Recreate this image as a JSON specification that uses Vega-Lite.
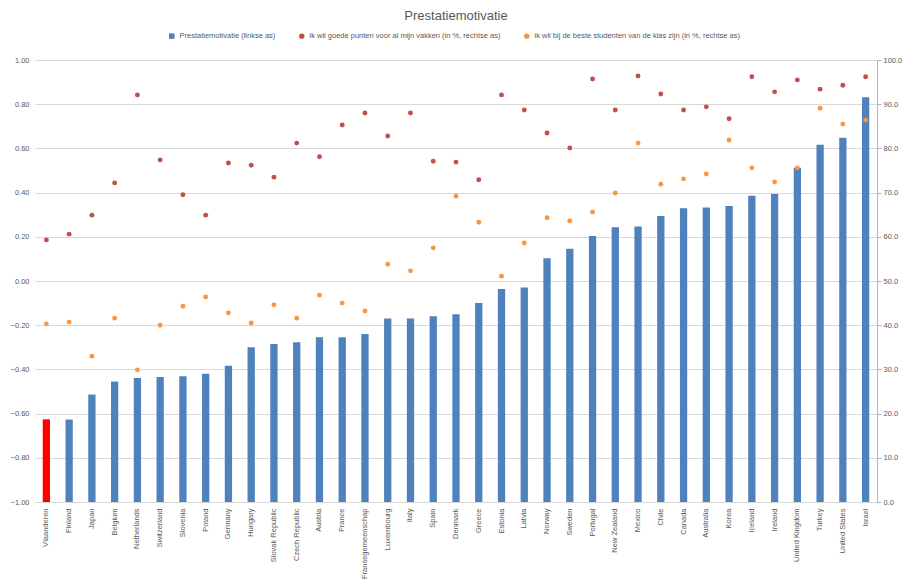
{
  "$schema": "https://vega.github.io/schema/vega-lite/v6.json",
  "width": 842,
  "height": 442,
  "autosize": {"type": "none"},
  "padding": {"left": 35, "top": 60, "right": 31, "bottom": 78},
  "background": "white",
  "config": {
    "font": "Liberation Sans",
    "view": {"stroke": null}
  },
  "title": {
    "text": "Prestatiemotivatie",
    "fontSize": 13,
    "fontWeight": "normal",
    "color": "#595959",
    "frame": "group",
    "offset": 9,
    "anchor": "middle"
  },
  "data": {
    "values": [
      {"country": "Vlaanderen", "motivatie": -0.626, "punten": 59.3, "beste": 40.3},
      {"country": "Finland", "motivatie": -0.627, "punten": 60.6, "beste": 40.7},
      {"country": "Japan", "motivatie": -0.514, "punten": 64.9, "beste": 33.0},
      {"country": "Belgium", "motivatie": -0.455, "punten": 72.2, "beste": 41.6},
      {"country": "Netherlands", "motivatie": -0.439, "punten": 92.1, "beste": 29.9},
      {"country": "Switzerland", "motivatie": -0.434, "punten": 77.4, "beste": 40.0},
      {"country": "Slovenia", "motivatie": -0.431, "punten": 69.5, "beste": 44.3},
      {"country": "Poland", "motivatie": -0.42, "punten": 64.9, "beste": 46.4},
      {"country": "Germany", "motivatie": -0.383, "punten": 76.7, "beste": 42.8},
      {"country": "Hungary", "motivatie": -0.30, "punten": 76.2, "beste": 40.5},
      {"country": "Slovak Republic", "motivatie": -0.285, "punten": 73.5, "beste": 44.6},
      {"country": "Czech Republic", "motivatie": -0.277, "punten": 81.2, "beste": 41.6},
      {"country": "Austria", "motivatie": -0.255, "punten": 78.1, "beste": 46.8},
      {"country": "France", "motivatie": -0.254, "punten": 85.3, "beste": 45.0},
      {"country": "Fransegemeenschap", "motivatie": -0.24, "punten": 88.0, "beste": 43.2},
      {"country": "Luxembourg", "motivatie": -0.17, "punten": 82.8, "beste": 53.8},
      {"country": "Italy", "motivatie": -0.17, "punten": 88.0, "beste": 52.3},
      {"country": "Spain", "motivatie": -0.16, "punten": 77.1, "beste": 57.5},
      {"country": "Denmark", "motivatie": -0.151, "punten": 76.9, "beste": 69.2},
      {"country": "Greece", "motivatie": -0.10, "punten": 72.9, "beste": 63.3},
      {"country": "Estonia", "motivatie": -0.036, "punten": 92.1, "beste": 51.1},
      {"country": "Latvia", "motivatie": -0.029, "punten": 88.7, "beste": 58.6},
      {"country": "Norway", "motivatie": 0.103, "punten": 83.5, "beste": 64.3},
      {"country": "Sweden", "motivatie": 0.146, "punten": 80.1, "beste": 63.6},
      {"country": "Portugal", "motivatie": 0.204, "punten": 95.7, "beste": 65.6},
      {"country": "New Zealand", "motivatie": 0.243, "punten": 88.7, "beste": 69.9},
      {"country": "Mexico", "motivatie": 0.247, "punten": 96.4, "beste": 81.2},
      {"country": "Chile", "motivatie": 0.294, "punten": 92.3, "beste": 71.9},
      {"country": "Canada", "motivatie": 0.329, "punten": 88.7, "beste": 73.1},
      {"country": "Australia", "motivatie": 0.333, "punten": 89.4, "beste": 74.2},
      {"country": "Korea", "motivatie": 0.339, "punten": 86.7, "beste": 81.9},
      {"country": "Iceland", "motivatie": 0.386, "punten": 96.2, "beste": 75.6},
      {"country": "Ireland", "motivatie": 0.394, "punten": 92.8, "beste": 72.4},
      {"country": "United Kingdom", "motivatie": 0.513, "punten": 95.5, "beste": 75.6},
      {"country": "Turkey", "motivatie": 0.617, "punten": 93.4, "beste": 89.1},
      {"country": "United States", "motivatie": 0.648, "punten": 94.3, "beste": 85.5},
      {"country": "Israel", "motivatie": 0.831, "punten": 96.2, "beste": 86.4}
    ]
  },
  "transform": [{"fold": ["motivatie", "punten", "beste"], "as": ["series", "value"]}],
  "encoding": {
    "x": {
      "field": "country",
      "type": "nominal",
      "sort": ["Vlaanderen", "Finland", "Japan", "Belgium", "Netherlands", "Switzerland", "Slovenia", "Poland", "Germany", "Hungary", "Slovak Republic", "Czech Republic", "Austria", "France", "Fransegemeenschap", "Luxembourg", "Italy", "Spain", "Denmark", "Greece", "Estonia", "Latvia", "Norway", "Sweden", "Portugal", "New Zealand", "Mexico", "Chile", "Canada", "Australia", "Korea", "Iceland", "Ireland", "United Kingdom", "Turkey", "United States", "Israel"],
      "scale": {"paddingInner": 0.68, "paddingOuter": 0.34},
      "axis": {
        "title": null,
        "labelAngle": -90,
        "labelFontSize": 7.5,
        "labelColor": "#595959",
        "labelPadding": 6,
        "ticks": false,
        "domainColor": "#d9d9d9",
        "grid": false
      }
    }
  },
  "layer": [
    {
      "transform": [{"filter": "datum.series === 'motivatie'"}],
      "mark": {"type": "bar"},
      "encoding": {
        "y": {
          "field": "value",
          "type": "quantitative",
          "scale": {"domain": [-1, 1], "nice": false},
          "axis": {
            "orient": "left",
            "title": null,
            "values": [-1, -0.8, -0.6, -0.4, -0.2, 0, 0.2, 0.4, 0.6, 0.8, 1],
            "format": ".2f",
            "domain": false,
            "ticks": false,
            "labelPadding": 6,
            "labelFontSize": 7.5,
            "labelColor": "#595959",
            "grid": true,
            "gridColor": "#d9d9d9"
          }
        },
        "y2": {"datum": -1},
        "color": {
          "condition": {"test": "datum.country === 'Vlaanderen'", "value": "#ff0000"},
          "field": "series",
          "type": "nominal",
          "scale": {"domain": ["motivatie", "punten", "beste"], "range": ["#4f81bd", "#c0504d", "#f79646"]},
          "legend": {
            "orient": "none",
            "legendX": 133,
            "legendY": -28,
            "direction": "horizontal",
            "title": null,
            "labelFontSize": 7.5,
            "labelColor": "#595959",
            "labelLimit": 400,
            "symbolSize": 30,
            "columnPadding": 22,
            "labelExpr": "datum.label === 'motivatie' ? 'Prestatiemotivatie (linkse as)' : datum.label === 'punten' ? 'ik wil goede punten voor al mijn vakken (in %, rechtse as)' : 'ik wil bij de beste studenten van de klas zijn (in %, rechtse as)'"
          }
        }
      }
    },
    {
      "transform": [{"filter": "datum.series !== 'motivatie'"}],
      "mark": {"type": "point", "filled": true, "size": 24, "opacity": 1},
      "encoding": {
        "y": {
          "field": "value",
          "type": "quantitative",
          "scale": {"domain": [0, 100], "nice": false},
          "axis": {
            "orient": "right",
            "title": null,
            "values": [0, 10, 20, 30, 40, 50, 60, 70, 80, 90, 100],
            "format": ".1f",
            "grid": false,
            "domainColor": "#9db8dc",
            "tickColor": "#9db8dc",
            "tickSize": 4,
            "labelPadding": 2,
            "labelFontSize": 7.5,
            "labelColor": "#595959"
          }
        },
        "color": {"field": "series", "type": "nominal"},
        "shape": {
          "field": "series",
          "type": "nominal",
          "scale": {"domain": ["motivatie", "punten", "beste"], "range": ["square", "circle", "circle"]}
        }
      }
    }
  ],
  "resolve": {"scale": {"y": "independent"}}
}
